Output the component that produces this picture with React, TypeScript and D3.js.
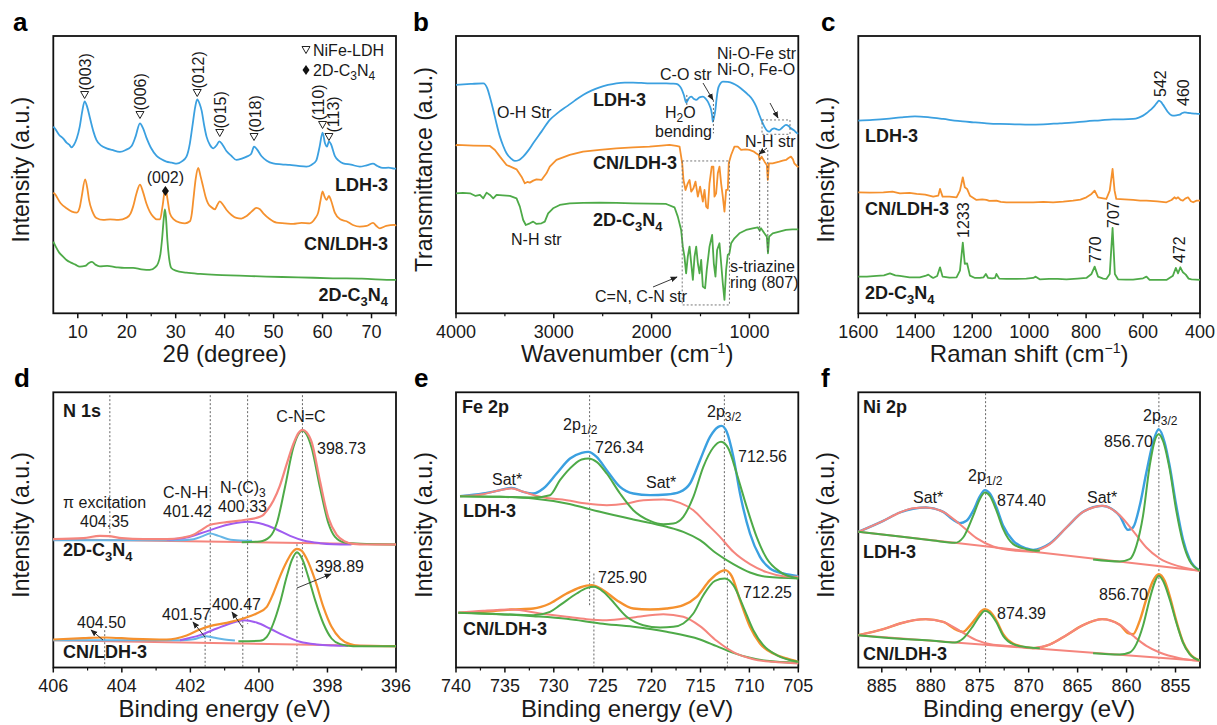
import React from "react";
import * as d3 from "d3";

type Pt = [number, number];

// ---------- (a) XRD, 2theta vs intensity (a.u.) ----------
const xrdLDH: Pt[] = [[5,560],[5.3,555],[6.2,535],[7,525],[7.7,512],[8.3,505],[8.7,498],[9.2,505],[9.8,525],[10.4,560],[10.9,605],[11.4,636],[11.9,620],[12.5,585],[13.2,545],[13.8,520],[14.8,503],[15.9,495],[17,490],[18.6,484],[19.8,490],[21,502],[21.8,530],[22.7,570],[23.3,556],[24,528],[25,495],[26.1,472],[27.1,462],[28.1,455],[29.2,452],[30.2,449],[31.2,455],[32.2,470],[32.9,510],[33.4,560],[34,620],[34.4,642],[34.9,628],[35.3,608],[35.8,565],[36.3,530],[37,505],[37.7,495],[38.4,505],[38.9,516],[39.6,505],[40.4,486],[41.4,472],[42.4,460],[43.5,464],[44.5,470],[45.4,478],[46,500],[46.6,492],[47.5,472],[48.6,458],[49.9,450],[51.6,447],[53.3,445],[55,442],[56.7,440],[57.8,446],[58.7,458],[59.4,500],[60,542],[60.5,510],[60.9,500],[61.3,516],[61.7,508],[62.5,472],[63.3,458],[64.2,450],[65.8,446],[67.6,440],[69,444],[70.3,449],[71.2,442],[72.3,436],[73.5,437],[74.7,434],[75,435]];
const xrdCN: Pt[] = [[5,362],[5.3,358],[6.5,330],[7.7,315],[8.8,305],[9.8,302],[10.4,318],[10.8,350],[11.5,402],[12,370],[12.3,340],[13,305],[13.8,286],[15.2,280],[16.6,282],[18.3,280],[20,287],[20.8,300],[21.3,320],[22,360],[22.7,386],[23.3,365],[24,330],[24.7,305],[25.4,290],[26.1,282],[26.8,282],[27.3,320],[27.9,376],[28.3,345],[28.8,300],[29.6,282],[30.9,272],[31.9,270],[32.9,276],[33.3,300],[33.6,340],[34.1,405],[34.6,436],[35.1,410],[35.6,380],[36.1,350],[36.6,330],[37.3,318],[38,312],[38.5,325],[39,336],[39.7,325],[40.4,310],[41.4,295],[42.4,286],[43.4,284],[44.5,292],[45.5,305],[46.5,316],[47.2,312],[47.9,300],[49.2,283],[50.6,272],[52.3,270],[54,268],[55.7,271],[57.4,270],[58.5,285],[59.1,302],[59.6,340],[60,366],[60.4,350],[60.8,340],[61.3,352],[61.7,340],[62.5,302],[63.6,282],[64.9,276],[66.2,265],[67.6,260],[69,262],[70.3,271],[71,262],[71.7,255],[73,262],[74.7,265],[75,262]];
const xrd2D: Pt[] = [[5,215],[5.5,200],[6.2,182],[7,170],[7.7,160],[8.6,152],[9.5,146],[10.4,140],[11.5,142],[12.2,150],[12.9,154],[13.6,146],[14.5,141],[16,142],[17.9,138],[19.5,136],[21.3,136],[23,132],[24.7,130],[25.8,138],[26.4,150],[26.9,180],[27.2,220],[27.6,290],[27.8,312],[28,290],[28.3,220],[28.7,160],[29.1,136],[30,128],[32.2,122],[35,118],[38.3,115],[43,113],[48.5,110],[55,108],[62.1,105],[68,104],[74.7,100],[75,100]];
const xrdPeaks = [
  { hkl: "(003)", pos: 11.4, y: 95, dx: 6.5 },
  { hkl: "(006)", pos: 22.7, y: 115, dx: 6.5 },
  { hkl: "(012)", pos: 34.4, y: 93, dx: 6.5 },
  { hkl: "(015)", pos: 39.0, y: 133, dx: 6.5 },
  { hkl: "(018)", pos: 46.0, y: 137, dx: 6.5 },
  { hkl: "(110)", pos: 60.0, y: 125, dx: 1.5 },
  { hkl: "(113)", pos: 61.3, y: 137, dx: 10.5 },
];

// ---------- (b) FTIR, wavenumber vs transmittance ----------
const irLDH: Pt[] = [[4000,685],[3850,688],[3721,690],[3680,675],[3650,645],[3619,610],[3585,568],[3551,530],[3517,502],[3483,480],[3440,465],[3398,457],[3355,460],[3313,470],[3262,488],[3211,510],[3126,545],[3041,580],[2956,602],[2871,620],[2786,638],[2701,655],[2616,668],[2531,678],[2446,685],[2361,690],[2275,692],[2190,692],[2105,691],[2020,690],[1935,690],[1850,690],[1790,689],[1748,688],[1720,684],[1697,675],[1670,655],[1646,632],[1620,645],[1595,650],[1570,644],[1544,640],[1510,648],[1476,650],[1450,645],[1425,635],[1405,622],[1391,610],[1380,590],[1374,575],[1360,590],[1347,612],[1335,645],[1323,670],[1300,688],[1272,695],[1220,694],[1170,690],[1120,682],[1068,670],[1017,657],[966,640],[930,620],[898,595],[870,574],[847,560],[820,548],[796,545],[770,552],[745,555],[720,552],[694,550],[660,558],[626,565],[600,562],[575,555],[540,548],[507,540],[500,540]];
const irCN: Pt[] = [[4000,502],[3993,505],[3820,503],[3653,502],[3602,490],[3551,470],[3483,445],[3381,432],[3330,410],[3296,390],[3270,394],[3245,392],[3210,398],[3177,402],[3126,400],[3075,420],[3041,440],[2973,460],[2837,475],[2701,485],[2531,490],[2361,495],[2190,498],[2021,500],[1900,503],[1817,505],[1748,502],[1714,500],[1687,450],[1674,400],[1653,370],[1630,390],[1612,400],[1595,365],[1572,375],[1551,395],[1527,350],[1504,380],[1476,335],[1459,370],[1442,320],[1425,315],[1408,390],[1385,440],[1368,440],[1357,350],[1340,360],[1323,420],[1306,440],[1289,390],[1272,350],[1255,305],[1238,370],[1221,370],[1211,450],[1187,475],[1153,500],[1119,500],[1085,490],[1040,492],[1000,490],[960,486],[932,480],[905,475],[895,460],[875,470],[845,455],[822,445],[812,400],[800,450],[762,450],[694,455],[660,458],[626,460],[600,466],[575,470],[555,462],[541,450],[507,440],[500,438]];
const ir2D: Pt[] = [[4000,360],[3930,361],[3857,360],[3800,352],[3755,355],[3721,345],[3687,362],[3653,355],[3619,345],[3585,355],[3520,354],[3449,352],[3381,345],[3347,320],[3313,280],[3286,265],[3245,270],[3211,275],[3177,268],[3126,270],[3092,275],[3058,300],[3007,315],[2939,325],[2837,330],[2700,331],[2531,332],[2360,331],[2191,330],[2020,329],[1851,328],[1766,318],[1732,290],[1698,250],[1681,200],[1664,170],[1647,120],[1630,170],[1612,200],[1595,150],[1578,100],[1561,170],[1544,200],[1527,150],[1510,120],[1493,160],[1476,80],[1453,75],[1436,130],[1408,200],[1381,235],[1364,150],[1347,110],[1330,190],[1306,210],[1289,150],[1272,90],[1255,40],[1238,130],[1221,175],[1204,180],[1187,210],[1153,225],[1102,240],[1034,250],[966,255],[915,258],[895,248],[881,255],[847,240],[822,230],[810,180],[798,230],[762,240],[694,245],[626,250],[560,252],[507,252],[500,252]];

// ---------- (c) Raman, shift vs intensity ----------
const ramLDH: Pt[] = [[1600,578],[1550,580],[1501,583],[1450,588],[1401,591],[1350,588],[1302,583],[1250,577],[1196,573],[1150,570],[1103,568],[1050,567],[1000,566],[950,567],[892,570],[850,572],[799,576],[750,579],[705,582],[670,582],[635,583],[615,587],[600,593],[588,600],[577,608],[568,615],[559,623],[550,633],[544,638],[537,634],[530,626],[520,613],[512,603],[504,596],[495,593],[483,594],[471,596],[462,601],[454,603],[442,601],[430,600],[415,599],[400,598]];
const ramCN: Pt[] = [[1600,363],[1560,362],[1512,363],[1480,365],[1454,360],[1420,361],[1395,358],[1365,356],[1337,350],[1319,353],[1313,373],[1304,350],[1280,350],[1255,348],[1243,368],[1233,408],[1226,378],[1218,373],[1208,353],[1185,340],[1165,342],[1150,340],[1140,337],[1115,338],[1100,334],[1080,333],[1040,333],[986,333],[950,334],[916,333],[880,335],[846,338],[820,341],[799,348],[781,358],[770,368],[758,348],[740,345],[729,343],[717,368],[707,433],[700,368],[694,343],[665,342],[635,340],[610,338],[588,338],[550,336],[518,333],[500,340],[489,348],[484,344],[477,348],[468,340],[460,338],[452,344],[442,348],[432,336],[424,333],[412,338],[400,338]];
const ram2D: Pt[] = [[1600,110],[1570,110],[1536,112],[1510,114],[1489,120],[1470,114],[1454,112],[1420,108],[1384,108],[1365,112],[1354,116],[1345,110],[1337,106],[1323,112],[1313,138],[1304,110],[1280,107],[1255,108],[1243,128],[1233,212],[1226,148],[1218,150],[1208,113],[1190,106],[1173,106],[1160,108],[1152,118],[1144,106],[1130,105],[1120,106],[1115,118],[1105,104],[1080,103],[1044,103],[1010,104],[986,106],[977,110],[963,102],[930,103],[900,103],[869,102],[830,104],[799,106],[781,118],[770,140],[758,110],[740,104],[729,103],[717,118],[707,256],[699,118],[688,102],[660,101],[635,101],[600,105],[588,110],[577,100],[550,100],[518,100],[495,113],[485,136],[477,120],[469,138],[460,123],[450,116],[440,104],[430,102],[400,100]];

// ---------- (d) N 1s ----------
const n2DBase: Pt[] = [[406,385],[396,369]];
const n2DEnv: Pt[] = [[406,385],[405.12,388],[404.64,395],[404.39,394],[404.0,388],[403.37,385],[402.69,385],[402.21,390],[401.91,398],[401.72,410],[401.42,428],[401.23,432],[400.94,436],[400.55,441],[400.33,444],[399.97,452],[399.87,458],[399.77,470],[399.58,500],[399.39,545],[399.19,610],[398.99,672],[398.85,703],[398.73,713],[398.61,706],[398.46,676],[398.22,560],[397.97,448],[397.73,398],[397.49,378],[397.25,371],[396.86,369],[396,369]];
const n2DCNC: Pt[] = [[400.5,376],[399.97,378],[399.68,392],[399.48,432],[399.24,541],[398.99,662],[398.73,710],[398.47,662],[398.22,541],[397.97,432],[397.78,392],[397.49,375],[397.05,371],[396,369]];
const n2DNC3: Pt[] = [[402.69,384],[402.11,390],[401.72,402],[401.42,412],[401.23,419],[400.75,432],[400.33,437],[399.87,430],[399.48,414],[399.09,395],[398.7,381],[398.22,373],[397.83,370],[397.3,369]];
const n2DCNH: Pt[] = [[406,382],[403.5,382],[402.3,382],[401.91,385],[401.62,395],[401.42,402],[401.18,395],[400.89,385],[400.55,381],[400.2,380]];
const nCNBase: Pt[] = [[406,82],[396,64]];
const nCNEnv: Pt[] = [[406,84],[405.12,88],[404.51,90],[403.67,86],[402.69,84],[402.11,96],[401.72,114],[401.43,124],[400.94,134],[400.46,147],[400.07,162],[399.77,182],[399.58,222],[399.39,272],[399.19,317],[399.04,344],[398.89,356],[398.75,350],[398.61,327],[398.36,262],[398.12,182],[397.88,122],[397.63,87],[397.34,70],[397.05,65],[396,64]];
const nCNCNC: Pt[] = [[400.6,79],[399.97,80],[399.77,92],[399.58,132],[399.39,192],[399.19,272],[399.04,322],[398.89,346],[398.73,324],[398.56,272],[398.36,202],[398.12,132],[397.88,87],[397.63,70],[397.25,64],[396,64]];
const nCNNC3: Pt[] = [[402.3,82],[401.72,97],[401.23,117],[400.75,135],[400.46,142],[400.07,135],[399.68,117],[399.29,97],[398.8,77],[398.32,69],[397.83,66],[397.4,65]];
const nCNCNH: Pt[] = [[406,82],[402.3,82],[401.91,85],[401.72,90],[401.55,94],[401.33,90],[401.0,84],[400.7,81]];

// ---------- (e) Fe 2p ----------
const feLdhEnv: Pt[] = [[739.59,514],[737.21,522],[735.5,532],[734.31,539],[733.12,527],[732.09,522],[731.07,537],[729.71,582],[728.34,627],[727.15,644],[726.47,647],[725.62,632],[724.59,592],[723.23,542],[721.87,522],[720.16,517],[718.46,519],[717.1,527],[716.07,552],[715.05,622],[714.03,692],[713.18,722],[712.84,725],[712.32,707],[711.64,632],[710.96,522],[709.94,402],[708.92,332],[707.89,297],[706.53,282],[705,274]];
const feLdhPeaks: Pt[] = [[739.59,514],[735.5,512],[732.09,510],[730.39,517],[729.37,562],[728,607],[727.15,624],[726.47,627],[725.62,617],[724.59,582],[723.23,522],[721.87,472],[720.16,440],[718.8,430],[717.78,432],[716.76,452],[715.73,512],[714.71,602],[713.69,660],[712.9,677],[712.15,657],[711.3,582],[710.28,482],[709.26,392],[708.23,327],[706.87,287],[705,267]];
const feLdhBg: Pt[] = [[739.59,514],[735.5,512],[732.09,507],[728.68,492],[725.28,467],[721.87,444],[718.46,422],[716.76,407],[715.05,382],[713.35,342],[711.64,310],[709.94,285],[708.23,272],[705,267]];
const feLdhSat: Pt[] = [[739.59,514],[737.21,520],[735.5,532],[734.31,537],[733.12,527],[731.41,512],[728.68,502],[726.64,492],[724.59,487],[722.55,492],[720.85,502],[718.8,504],[717.1,494],[715.73,472],[714.37,432],[713.01,392],[711.64,347],[709.94,310],[708.23,286],[706.53,274],[705,272]];
const feCnEnv: Pt[] = [[739.76,164],[737.21,167],[734.31,174],[732.09,177],[730.39,192],[728.68,222],[727.32,240],[726.13,247],[724.94,232],[723.57,202],[721.87,177],[720.16,174],[718.46,177],[716.76,187],[715.39,212],[714.03,262],[713.01,287],[712.5,292],[711.81,274],[710.96,202],[709.94,122],[708.92,72],[707.55,42],[706.19,27],[705,17]];
const feCnPeaks: Pt[] = [[739.76,164],[735.5,160],[732.09,157],[730.39,167],[729.37,187],[727.66,222],[726.64,238],[725.89,242],[724.94,227],[724.25,207],[722.55,152],[720.85,127],[719.14,120],[717.78,122],[716.76,132],[715.73,162],[714.71,217],[713.52,260],[712.5,267],[711.64,247],[710.62,182],[709.6,112],[708.58,67],[707.21,37],[705,17]];
const feCnBg: Pt[] = [[739.76,164],[735.5,160],[732.09,154],[728.68,146],[725.28,132],[721.87,122],[718.46,107],[715.05,84],[713.35,64],[711.64,44],[709.94,29],[708.23,20],[705,14]];
const feCnSat: Pt[] = [[739.76,164],[737.21,170],[734.31,174],[731.41,162],[728.68,152],[726.64,145],[724.59,142],[721.87,150],[718.8,160],[716.76,152],[715.05,124],[713.35,80],[711.64,46],[709.6,25],[707.55,17],[705,12]];

// ---------- (f) Ni 2p ----------
const niLdhBase: Pt[] = [[887.4,407],[852.54,290]];
const niLdhEnv: Pt[] = [[887.4,407],[884.85,440],[883.15,465],[880.5,480],[878.73,467],[877.71,443],[877.03,433],[876.35,440],[875.67,470],[874.99,513],[874.47,532],[873.96,522],[873.28,480],[872.6,425],[871.58,380],[870.22,357],[869.54,353],[867.84,372],[866.14,420],[864.44,467],[862.5,485],[860.7,455],[859.85,413],[859.34,420],[858.66,485],[857.98,585],[857.3,675],[856.72,715],[856.11,675],[855.6,605],[854.92,485],[854.24,385],[853.56,325],[852.54,291]];
const niLdhSat1: Pt[] = [[887.4,407],[884.85,440],[883.15,465],[881.79,478],[880.5,480],[878.73,467],[877.03,430],[875.33,388],[873.62,363],[871.24,350],[869.54,347]];
const niLdhSat2: Pt[] = [[869.54,347],[867.84,370],[866.14,420],[864.44,467],[863.42,480],[862.5,485],[860.7,457],[859.34,410],[857.98,360],[856.62,327],[854.58,303],[852.54,290]];
const niLdhP1: Pt[] = [[887.4,407],[883.15,393],[879.75,381],[877.54,374],[876.69,390],[875.67,455],[874.99,505],[874.47,525],[873.96,515],[873.28,470],[872.6,415],[871.58,370],[870.22,355],[868.86,350]];
const niLdhP2: Pt[] = [[863.42,324],[860.7,318],[859.68,325],[859.0,365],[858.32,455],[857.64,605],[857.13,680],[856.72,700],[856.28,680],[855.6,595],[854.92,470],[854.24,375],[853.56,320],[852.54,291]];
const niCnBase: Pt[] = [[887.4,97],[852.54,20]];
const niCnEnv: Pt[] = [[887.4,97],[884.85,115],[883.15,132],[880.5,145],[878.73,137],[877.37,113],[876.69,107],[876.01,125],[875.33,150],[874.82,170],[874.47,175],[873.96,168],[873.28,140],[872.6,100],[871.58,72],[869.54,58],[867.84,69],[866.14,97],[864.44,127],[862.5,145],[860.7,128],[859.85,103],[859.34,100],[858.66,140],[857.98,205],[857.3,260],[856.72,280],[856.11,260],[855.6,215],[854.92,140],[854.24,77],[853.56,42],[852.54,21]];
const niCnSat1: Pt[] = [[887.4,97],[884.85,115],[883.15,132],[881.79,142],[880.5,145],[878.73,137],[877.03,110],[875.33,82],[873.62,68],[871.24,63],[869.54,58]];
const niCnSat2: Pt[] = [[869.54,58],[867.84,69],[866.14,97],[864.44,127],[863.42,140],[862.5,145],[860.7,128],[859.34,95],[857.98,65],[856.62,45],[854.58,28],[852.54,20]];
const niCnP1: Pt[] = [[887.4,97],[883.15,86],[879.75,80],[877.54,75],[876.69,87],[875.67,125],[874.99,155],[874.47,170],[873.96,163],[873.28,135],[872.6,95],[871.58,70],[870.22,61],[868.86,58]];
const niCnP2: Pt[] = [[863.42,43],[860.7,39],[859.68,45],[859.0,70],[858.32,125],[857.64,205],[857.13,255],[856.72,275],[856.28,260],[855.6,205],[854.92,135],[854.24,75],[853.56,40],[852.54,21]];

// tick values
const ticksA = [10, 20, 30, 40, 50, 60, 70];
const minorA = [15, 25, 35, 45, 55, 65, 75];
const ticksB = [4000, 3000, 2000, 1000];
const minorB = [3500, 2500, 1500];
const ticksC = [1600, 1400, 1200, 1000, 800, 600, 400];
const minorC = [1500, 1300, 1100, 900, 700, 500];
const ticksD = [406, 404, 402, 400, 398, 396];
const minorD = [405, 403, 401, 399, 397];
const ticksE = [740, 735, 730, 725, 720, 715, 710, 705];
const minorE = [737.5, 732.5, 727.5, 722.5, 717.5, 712.5, 707.5];
const ticksF = [885, 880, 875, 870, 865, 860, 855];
const minorF = [882.5, 877.5, 872.5, 867.5, 862.5, 857.5];

const FONT = "'Liberation Sans', Arial, Helvetica, sans-serif";
const BLUE = "#3ba0e0";
const ORANGE = "#f5912e";
const GREEN = "#4eaa48";
const RED = "#f5857d";
const PURPLE = "#a05cf0";
const LBLUE = "#66b6e6";
const INK = "#1a1a1a";

const COLS: [number, number][] = [[53.3, 396], [456, 798.3], [858.3, 1200]];
const ROWS: [number, number][] = [[36, 313.3], [392.3, 667.5]];

function scales(c: number, r: number, dom: [number, number]) {
  const xs = d3.scaleLinear().domain(dom).range(COLS[c]);
  const [t, b] = ROWS[r];
  const ys = d3.scaleLinear().domain([0, 3 * (b - t)]).range([b, t]);
  return { xs, ys };
}

const Line = ({ data, xs, ys, color, w = 1.8, linear = false }: any) => {
  const g = d3.line<Pt>().x((d) => xs(d[0])).y((d) => ys(d[1]))
    .curve(linear ? d3.curveLinear : d3.curveMonotoneX);
  return <path d={g(data) || ""} fill="none" stroke={color} strokeWidth={w} strokeLinejoin="round" />;
};

const Dot = ({ xs, ys, x, a, b }: any) => (
  <line x1={xs(x)} x2={xs(x)} y1={ys(a)} y2={ys(b)} stroke="#555" strokeWidth={0.9} strokeDasharray="2 2" />
);

const Arrow = ({ x1, y1, x2, y2 }: any) => (
  <line x1={x1} y1={y1} x2={x2} y2={y2} stroke="#222" strokeWidth={0.9} markerEnd="url(#ah)" />
);

const T = ({ x, y, s = 16, b = false, a = "start", children }: any) => (
  <text x={x} y={y} fontSize={s} fontWeight={b ? "bold" : "normal"} textAnchor={a} fill={INK}>{children}</text>
);

const Rot = ({ x, y, s = 16, children }: any) => (
  <text transform={`translate(${x},${y}) rotate(-90)`} fontSize={s} fill={INK}>{children}</text>
);

const CN = ({ big = true }: any) => {
  const d = big ? 5 : 4;
  const fs = big ? 13 : 12;
  return (
    <>
      <tspan>2D-C</tspan>
      <tspan dy={d} fontSize={fs}>3</tspan>
      <tspan dy={-d}>N</tspan>
      <tspan dy={d} fontSize={fs}>4</tspan>
    </>
  );
};

const Tri = ({ x, y }: any) => (
  <path d={`M${x - 4},${y - 3.5}L${x + 4},${y - 3.5}L${x},${y + 3.5}Z`} fill="none" stroke="#222" strokeWidth={1} />
);
const Diamond = ({ x, y }: any) => (
  <path d={`M${x},${y - 5}L${x + 3.5},${y}L${x},${y + 5}L${x - 3.5},${y}Z`} fill="#111" />
);

const Frame = ({ xs, ys, majors, minors, xTitle, yTitle, letter, lx }: any) => {
  const [x0, x1] = xs.range();
  const [y1, y0] = ys.range();
  const lo = Math.min(x0, x1);
  const hi = Math.max(x0, x1);
  return (
    <g>
      <rect x={lo} y={y0} width={hi - lo} height={y1 - y0} fill="none" stroke="#111" strokeWidth={1.8} />
      {majors.map((v: number) => (
        <line key={"M" + v} x1={xs(v)} x2={xs(v)} y1={y1} y2={y1 + 5} stroke="#111" strokeWidth={1.5} />
      ))}
      {minors.map((v: number) => (
        <line key={"m" + v} x1={xs(v)} x2={xs(v)} y1={y1} y2={y1 + 3} stroke="#111" strokeWidth={1.2} />
      ))}
      {majors.map((v: number) => (
        <text key={"t" + v} x={xs(v)} y={y1 + 24.5} fontSize={18} textAnchor="middle" fill={INK}>{v}</text>
      ))}
      <text x={(lo + hi) / 2} y={y1 + 49} fontSize={24} textAnchor="middle" fill={INK}>{xTitle}</text>
      <text transform={`translate(${lo - 24},${(y0 + y1) / 2 - 5}) rotate(-90)`} fontSize={23} textAnchor="middle" fill={INK}>{yTitle}</text>
      <text x={lx} y={y0 - 5} fontSize={26} fontWeight="bold" fill="#000">{letter}</text>
    </g>
  );
};

const CM = (
  <>
    <tspan>(cm</tspan>
    <tspan dy={-9} fontSize={14}>−1</tspan>
    <tspan dy={9}>)</tspan>
  </>
);

export default function App() {
  const A = scales(0, 0, [5, 75]);
  const B = scales(1, 0, [4000, 500]);
  const C = scales(2, 0, [1600, 400]);
  const D = scales(0, 1, [406, 396]);
  const E = scales(1, 1, [740, 705]);
  const F = scales(2, 1, [887.4, 852.5]);

  return (
    <svg width={1217} height={725} style={{ position: "absolute", left: 0, top: 0, background: "#fff" }} fontFamily={FONT}>
      <defs>
        <marker id="ah" viewBox="0 0 10 10" refX="9" refY="5" markerWidth="7" markerHeight="7" orient="auto" markerUnits="userSpaceOnUse">
          <path d="M0,1 L10,5 L0,9 z" fill="#222" />
        </marker>
      </defs>
      <rect x={0} y={0} width={1217} height={725} fill="#fff" />

      {/* (a) XRD */}
      <Frame {...A} majors={ticksA} minors={minorA} letter="a" lx={13} xTitle={<>2θ (degree)</>} yTitle="Intensity (a.u.)" />
      <Line {...A} data={xrd2D} color={GREEN} />
      <Line {...A} data={xrdCN} color={ORANGE} />
      <Line {...A} data={xrdLDH} color={BLUE} />
      {xrdPeaks.map((p) => (
        <g key={p.hkl}>
          <Tri x={A.xs(p.pos)} y={p.y} />
          <Rot x={A.xs(p.pos) + p.dx} y={p.y - 4.5} s={16}>{p.hkl}</Rot>
        </g>
      ))}
      <Tri x={306} y={50} />
      <T x={313} y={56}>NiFe-LDH</T>
      <Diamond x={306} y={70} />
      <T x={313} y={76}><CN big={false} /></T>
      <T x={A.xs(27.9)} y={183} a="middle">(002)</T>
      <Diamond x={A.xs(27.9)} y={191} />
      <T x={388} y={191} s={18} b a="end">LDH-3</T>
      <T x={388} y={250} s={18} b a="end">CN/LDH-3</T>
      <T x={388} y={301} s={18} b a="end"><CN /></T>

      {/* (b) FTIR */}
      <Frame {...B} majors={ticksB} minors={minorB} letter="b" lx={413} xTitle={<><tspan>Wavenumber </tspan>{CM}</>} yTitle="Transmittance (a.u.)" />
      <Line {...B} data={ir2D} color={GREEN} linear />
      <Line {...B} data={irCN} color={ORANGE} linear />
      <Line {...B} data={irLDH} color={BLUE} />
      <Dot {...B} x={1640} a={655} b={610} />
      <Dot {...B} x={1368} a={640} b={540} />
      <rect x={B.xs(871)} y={B.ys(580)} width={B.xs(585) - B.xs(871)} height={B.ys(537) - B.ys(580)} fill="none" stroke="#666" strokeWidth={0.9} strokeDasharray="2 2" />
      <rect x={B.xs(1687)} y={B.ys(457)} width={B.xs(1204) - B.xs(1687)} height={B.ys(25) - B.ys(457)} fill="none" stroke="#666" strokeWidth={0.9} strokeDasharray="2 2" />
      <Dot {...B} x={895} a={490} b={220} />
      <Dot {...B} x={812} a={490} b={180} />
      <T x={497} y={118}>O-H Str</T>
      <T x={593} y={106} s={18} b>LDH-3</T>
      <T x={593} y={169} s={18} b>CN/LDH-3</T>
      <T x={593} y={226} s={18} b><CN /></T>
      <T x={511} y={245}>N-H str</T>
      <T x={660} y={80}>C-O str</T>
      <Arrow x1={703} y1={83} x2={713} y2={100} />
      <T x={665} y={118}>H<tspan dy={4} fontSize={12}>2</tspan><tspan dy={-4}>O</tspan></T>
      <T x={655} y={137}>bending</T>
      <T x={717} y={59}>Ni-O-Fe str</T>
      <T x={717} y={75}>Ni-O, Fe-O</T>
      <Arrow x1={770} y1={103} x2={778} y2={118} />
      <T x={745} y={147}>N-H str</T>
      <Arrow x1={767} y1={148} x2={759} y2={154} />
      <T x={730} y={272}>s-triazine</T>
      <T x={730} y={288}>ring (807)</T>
      <T x={595} y={302}>C=N, C-N str</T>
      <Arrow x1={653} y1={287} x2={677} y2={277} />

      {/* (c) Raman */}
      <Frame {...C} majors={ticksC} minors={minorC} letter="c" lx={821} xTitle={<><tspan>Raman shift </tspan>{CM}</>} yTitle="Intensity (a.u.)" />
      <Line {...C} data={ram2D} color={GREEN} linear />
      <Line {...C} data={ramCN} color={ORANGE} linear />
      <Line {...C} data={ramLDH} color={BLUE} />
      <T x={865} y={142} s={18} b>LDH-3</T>
      <T x={865} y={215} s={18} b>CN/LDH-3</T>
      <T x={865} y={299} s={18} b><CN /></T>
      <Rot x={C.xs(542) + 6} y={97}>542</Rot>
      <Rot x={C.xs(460) + 6} y={106}>460</Rot>
      <Rot x={C.xs(1233) + 6} y={238}>1233</Rot>
      <Rot x={C.xs(707) + 6} y={228}>707</Rot>
      <Rot x={C.xs(770) + 6} y={263}>770</Rot>
      <Rot x={C.xs(472) + 6} y={263}>472</Rot>

      {/* (d) N 1s */}
      <Frame {...D} majors={ticksD} minors={minorD} letter="d" lx={14} xTitle="Binding energy (eV)" yTitle="Intensity (a.u.)" />
      <Dot {...D} x={404.35} a={817} b={387} />
      <Dot {...D} x={401.42} a={817} b={75} />
      <Dot {...D} x={400.33} a={817} b={130} />
      <Dot {...D} x={398.73} a={817} b={268} />
      <Dot {...D} x={404.5} a={112} b={2} />
      <Dot {...D} x={401.57} a={152} b={2} />
      <Dot {...D} x={400.47} a={152} b={2} />
      <Dot {...D} x={398.89} a={370} b={2} />
      <Line {...D} data={n2DBase} color={RED} w={2} linear />
      <Line {...D} data={n2DCNH} color={LBLUE} w={2} />
      <Line {...D} data={n2DNC3} color={PURPLE} w={2} />
      <Line {...D} data={n2DCNC} color={GREEN} w={2} />
      <Line {...D} data={n2DEnv} color={RED} w={2.2} />
      <Line {...D} data={nCNBase} color={RED} w={2} linear />
      <Line {...D} data={nCNCNH} color={LBLUE} w={2} />
      <Line {...D} data={nCNNC3} color={PURPLE} w={2} />
      <Line {...D} data={nCNEnv} color={ORANGE} w={2.2} />
      <Line {...D} data={nCNCNC} color={GREEN} w={2} />
      <T x={63} y={417} s={18} b>N 1s</T>
      <T x={301} y={422} a="middle">C-N=C</T>
      <T x={317} y={454}>398.73</T>
      <T x={163} y={498}>C-N-H</T>
      <T x={163} y={517}>401.42</T>
      <T x={220} y={493}>N-(C)<tspan dy={4} fontSize={12}>3</tspan></T>
      <T x={218} y={512}>400.33</T>
      <T x={63} y={508}>π excitation</T>
      <T x={80} y={527}>404.35</T>
      <T x={63} y={556} s={18} b><CN /></T>
      <T x={315} y={572}>398.89</T>
      <T x={212} y={610}>400.47</T>
      <T x={162} y={620}>401.57</T>
      <T x={77} y={628}>404.50</T>
      <T x={63} y={658} s={18} b>CN/LDH-3</T>
      <Arrow x1={297} y1={588} x2={331} y2={574} />
      <Arrow x1={243} y1={628} x2={232} y2={612} />
      <Arrow x1={205} y1={637} x2={193} y2={622} />
      <Arrow x1={103} y1={640} x2={91} y2={630} />

      {/* (e) Fe 2p */}
      <Frame {...E} majors={ticksE} minors={minorE} letter="e" lx={414} xTitle="Binding energy (eV)" yTitle="Intensity (a.u.)" />
      <Dot {...E} x={726.34} a={817} b={187} />
      <Dot {...E} x={712.56} a={817} b={282} />
      <Dot {...E} x={725.9} a={282} b={2} />
      <Dot {...E} x={712.25} a={282} b={2} />
      <Line {...E} data={feLdhEnv} color={BLUE} w={2.4} />
      <Line {...E} data={feLdhBg} color={GREEN} w={2} />
      <Line {...E} data={feLdhSat} color={RED} w={2} />
      <Line {...E} data={feLdhPeaks} color={GREEN} w={2} />
      <Line {...E} data={feCnEnv} color={ORANGE} w={2.4} />
      <Line {...E} data={feCnBg} color={GREEN} w={2} />
      <Line {...E} data={feCnSat} color={RED} w={2} />
      <Line {...E} data={feCnPeaks} color={GREEN} w={2} />
      <T x={462} y={413} s={18} b>Fe 2p</T>
      <T x={563} y={430}>2p<tspan dy={4} fontSize={12}>1/2</tspan></T>
      <T x={595} y={453}>726.34</T>
      <T x={707} y={417}>2p<tspan dy={4} fontSize={12}>3/2</tspan></T>
      <T x={738} y={462}>712.56</T>
      <T x={492} y={485}>Sat*</T>
      <T x={646} y={488}>Sat*</T>
      <T x={463} y={517} s={18} b>LDH-3</T>
      <T x={598} y={583}>725.90</T>
      <T x={743} y={598}>712.25</T>
      <T x={463} y={635} s={18} b>CN/LDH-3</T>

      {/* (f) Ni 2p */}
      <Frame {...F} majors={ticksF} minors={minorF} letter="f" lx={821} xTitle="Binding energy (eV)" yTitle="Intensity (a.u.)" />
      <Dot {...F} x={874.4} a={823} b={2} />
      <Dot {...F} x={856.7} a={823} b={2} />
      <Line {...F} data={niLdhEnv} color={BLUE} w={2.4} />
      <Line {...F} data={niLdhBase} color={RED} w={2} linear />
      <Line {...F} data={niLdhSat1} color={RED} w={2} />
      <Line {...F} data={niLdhSat2} color={RED} w={2} />
      <Line {...F} data={niLdhP1} color={GREEN} w={2} />
      <Line {...F} data={niLdhP2} color={GREEN} w={2} />
      <Line {...F} data={niCnEnv} color={ORANGE} w={2.4} />
      <Line {...F} data={niCnBase} color={RED} w={2} linear />
      <Line {...F} data={niCnSat1} color={RED} w={2} />
      <Line {...F} data={niCnSat2} color={RED} w={2} />
      <Line {...F} data={niCnP1} color={GREEN} w={2} />
      <Line {...F} data={niCnP2} color={GREEN} w={2} />
      <T x={863} y={413} s={18} b>Ni 2p</T>
      <T x={1143} y={421}>2p<tspan dy={4} fontSize={12}>3/2</tspan></T>
      <T x={1104} y={447}>856.70</T>
      <T x={968} y={481}>2p<tspan dy={4} fontSize={12}>1/2</tspan></T>
      <T x={997} y={506}>874.40</T>
      <T x={913} y={503}>Sat*</T>
      <T x={1087} y={503}>Sat*</T>
      <T x={863} y={558} s={18} b>LDH-3</T>
      <T x={1099} y={600}>856.70</T>
      <T x={997} y={619}>874.39</T>
      <T x={863} y={660} s={18} b>CN/LDH-3</T>
    </svg>
  );
}
